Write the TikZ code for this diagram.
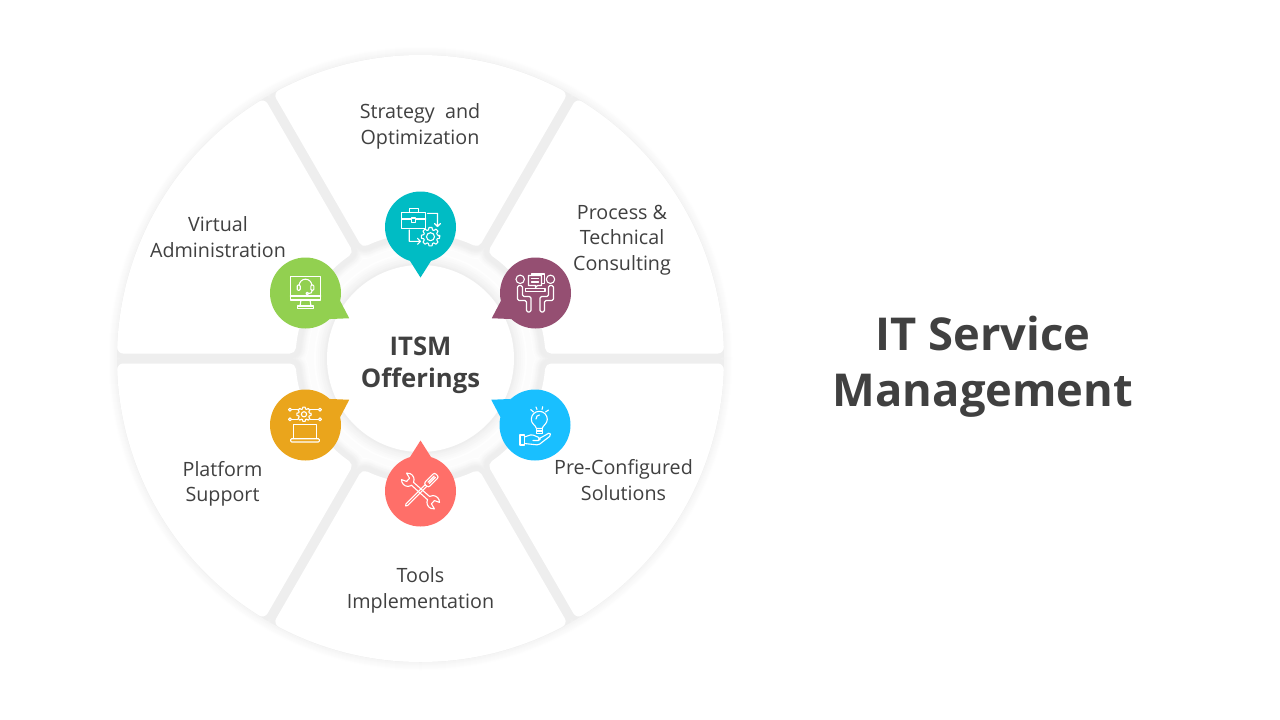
\documentclass[tikz,border=0pt]{standalone}
\usepackage{fontspec}
\setmainfont{Open Sans}
\definecolor{ink}{HTML}{404040}
\definecolor{cteal}{HTML}{00BCC4}
\definecolor{cplum}{HTML}{954F72}
\definecolor{cgreen}{HTML}{92D050}
\definecolor{corange}{HTML}{EAA51C}
\definecolor{cblue}{HTML}{19BFFF}
\definecolor{cred}{HTML}{FF6F69}
\tikzset{
  lab/.style={text=ink,align=center,inner sep=0pt,font=\fontsize{19.7}{25.3}\selectfont},
  hub/.style={text=ink,align=center,inner sep=0pt,font=\fontsize{25.7}{32}\selectfont\bfseries},
  ttl/.style={text=ink,align=center,inner sep=0pt,font=\fontsize{45.3}{56.5}\selectfont\bfseries},
  ico/.style={draw=white,line width=1.1pt,line join=round,line cap=round},
}
\newcommand\segpath[1]{(#1-27.88:297.5) arc[start angle=#1-27.88,end angle=#1+27.88,radius=297.5] -- (#1+25.18:131) arc[start angle=#1+25.18,end angle=#1-25.18,radius=131] -- cycle}
\newcommand\pin[4]{\fill[#4] (#1,#2) circle[radius=35.5];
  \fill[#4,shift={(#1,#2)}] (#3:50.5) -- (#3-17.2:35.5) -- (#3+17.2:35.5) -- cycle;}
\newcommand\gearshape[3]{% centre, outer radius, inner radius
  \draw[ico,shift={#1}] (0:#2)
  \foreach \g in {0,45,...,315}{ -- (\g-9:#2) -- (\g+9:#2) -- (\g+17:#2*0.76) -- (\g+28:#2*0.76)} -- cycle;
  \draw[ico,shift={#1}] (0,0) circle[radius=#3];}
\begin{document}
\begin{tikzpicture}[x=1pt,y=1pt,yscale=-1]
\useasboundingbox (0,0) rectangle (1280,720);
\fill[white] (0,0) rectangle (1280,720);
\begin{scope}[shift={(420.5,358.5)}]
  % faint shadow round the whole wheel
  \foreach \d/\c in {8/0.5,7/1,6/1.5,5/2,4/2.5,3/3,2/3.5,1/4}{
    \fill[black!\c!white] (0,0) circle[radius=303.5+\d];
  }
  % shadow of the six segments, in solid layers, inside the wheel only
  \begin{scope}
    \clip (0,0) circle[radius=303.5];
    \fill[black!1!white] (0,0) circle[radius=303.5];
    \foreach \d/\c in {13/0.5,12/1,11/1.5,10/2.5,9/3.5,8/4,7/5,6/6,5/6.5}{
      \foreach \a in {-90,-30,30,90,150,210}{
        \draw[black!\c!white,line width={12pt+2*\d pt},line join=round] \segpath{\a};
      }
    }
  \end{scope}
  \foreach \a in {-90,-30,30,90,150,210}{
    \filldraw[white,line width=12pt,line join=round] \segpath{\a};
  }
  % middle of the band is white, then shadow of the hub
  \foreach \d/\c in {13/0.5,11/1.5,9/2.5,7/3.5,5/4.5,3/5.5,1.5/6.5}{
    \fill[black!\c!white] (0,0) circle[radius=93.5+\d];
  }
  \fill[white] (0,0) circle[radius=93.5];
\end{scope}
% texts
\node[lab] (t1) at (420,126.5) {Strategy\ \ and\\Optimization};
\node[lab] (t2) at (622,240) {Process \&\\Technical\\Consulting};
\node[lab] (t3) at (623.5,480) {Pre-Configured\\Solutions};
\node[lab] (t4) at (420.5,590.5) {Tools\\Implementation};
\node[lab] (t5) at (222.5,483.5) {Platform\\Support};
\node[lab] (t6) at (218,237) {Virtual\\Administration};
\node[hub] (hub) at (420.5,365) {ITSM\\Offerings};
\node[ttl] (title) at (983,366.5) {IT Service\\Management};
% pins
\pin{420.5}{227}{90}{cteal}
\pin{535.5}{293}{150}{cplum}
\pin{535}{425}{210}{cblue}
\pin{420.5}{491}{270}{cred}
\pin{305.5}{425}{330}{corange}
\pin{305.5}{293}{30}{cgreen}
% teal icon
\begin{scope}[shift={(420.5,227)}]
  \draw[ico] (-18.7,-14.7) rectangle (5.3,1.7);
  \draw[ico] (-11.3,-14.7) -- (-11.3,-18.7) -- (-2,-18.7) -- (-2,-14.7);
  \draw[ico] (-18.7,-8) -- (-9,-8) (-5,-8) -- (5.3,-8);
  \draw[ico] (-9,-9) rectangle (-5,-4.5);
  \draw[ico] (7,-13.7) -- (17,-13.7) -- (17,-0.5) (14,-3.5) -- (17,-0.5) -- (20,-3.5);
  \draw[ico] (-11.3,3) -- (-11.3,14.3) -- (0,14.3) (-3,11.3) -- (0,14.3) -- (-3,17.3);
  \gearshape{(10,9.7)}{9.3}{4}
\end{scope}
% plum icon
\begin{scope}[shift={(535.5,293)}]
  \draw[ico] (-15.3,-13.7) circle[radius=4.2] (15,-13.7) circle[radius=4.2];
  \draw[ico,fill=cplum] (-4,-19) rectangle (9,-9.5);
  \draw[ico,fill=cplum] (-7,-17.5) -- (6,-17.5) -- (6,-7.5) -- (2,-7.5) -- (0,-5.5) -- (0,-7.5) -- (-7,-7.5) -- cycle;
  \draw[ico] (-4,-14.5) -- (3,-14.5) (-4,-11) -- (3,-11);
  \draw[ico] (-10,-4.5) rectangle (9.5,-1.3);
  \draw[ico,rounded corners=1.5pt] (-18,-7.5) -- (-18,7.5) -- (-9,7.5) -- (-9,19) -- (-4.5,19) -- (-4.5,3.5) -- (-13,3.5) -- (-13,-7.5) -- cycle;
  \draw[ico,rounded corners=1.5pt] (18,-7.5) -- (18,7.5) -- (9,7.5) -- (9,19) -- (4.5,19) -- (4.5,3.5) -- (13,3.5) -- (13,-7.5) -- cycle;
\end{scope}
% green icon
\begin{scope}[shift={(305.5,293)}]
  \draw[ico] (-15.2,-16.7) rectangle (15.2,7);
  \draw[ico] (-15.2,3) -- (15.2,3);
  \draw[ico] (-4.5,7) -- (-5.5,13) (4.5,7) -- (5.5,13);
  \draw[ico] (-7.8,13) rectangle (7.8,15.7);
  \draw[ico] (-6.3,-7.5) arc[start angle=180,end angle=360,radius=6.3];
  \draw[ico,rounded corners=1pt] (-8.3,-8) rectangle (-5.3,-2.7);
  \draw[ico,rounded corners=1pt] (5.3,-8) rectangle (8.3,-2.7);
  \draw[ico] (6.8,-2.7) .. controls (6.8,0) and (5,0.5) .. (3,0.5);
  \draw[ico] (1.7,0.5) circle[radius=1.3];
\end{scope}
% orange icon
\begin{scope}[shift={(305.5,425)}]
  \gearshape{(-1.5,-10.7)}{7.2}{2.6}
  \draw[ico] (-15.5,-15.3) circle[radius=1.5] (-15.5,-5.7) circle[radius=1.5] (14.5,-15.3) circle[radius=1.5] (14.5,-5.7) circle[radius=1.5];
  \draw[ico] (-14,-15.3) -- (-8,-15.3) (-14,-5.7) -- (-8,-5.7) (13,-15.3) -- (5,-15.3) (13,-5.7) -- (5,-5.7);
  \draw[ico] (-12.2,13.7) -- (-12.2,-0.7) -- (11.2,-0.7) -- (11.2,13.7);
  \draw[ico,rounded corners=1pt] (-14.8,13.7) rectangle (13.8,17);
\end{scope}
% blue icon
\begin{scope}[shift={(535,425)}]
  \draw[ico] (1.5,3.5) .. controls (0.5,0) and (-3.7,-1) .. (-3.7,-5.7) arc[start angle=180,end angle=360,radius=8] .. controls (12.3,-1) and (8,0) .. (7.2,3.5) -- cycle;
  \draw[ico] (1,-6) .. controls (1,-8.5) and (2.5,-10) .. (4.5,-10);
  \draw[ico] (1.5,3.5) -- (1.5,8.5) -- (7.2,8.5) -- (7.2,3.5) (1.5,6) -- (7.2,6);
  \draw[ico] (-4.3,-15.5) -- (-1.5,-13) (1,-18) -- (2,-15.5) (7.7,-18.3) -- (7,-15.5) (13.5,-15) -- (10.5,-13);
  \draw[ico] (-15,10) rectangle (-10.7,20);
  \draw[ico,rounded corners=1.5pt] (-10.7,12) -- (-3,9.5) -- (5,13) -- (5,15.5) -- (-2,15.5) (3.5,14) -- (15,7.5) -- (15.8,10.5) -- (3.5,20) -- (-10.7,18.5);
\end{scope}
% red icon
\begin{scope}[shift={(420.5,491)},scale=0.88]
  \begin{scope}[rotate=42]
    \draw[ico] (-12.5,2) -- (12.5,2)
      arc[start angle=162,end angle=40,radius=7.5] -- (19,2.5) -- (19,-2.5) -- (24.7,-4.8)
      arc[start angle=-40,end angle=-162,radius=7.5] -- (-12.5,-2)
      (-12.5,-2) arc[start angle=-18,end angle=-140,radius=7.5] -- (-19,-2.5) -- (-19,2.5) -- (-24.7,4.8)
      arc[start angle=140,end angle=18,radius=7.5];
  \end{scope}
  \begin{scope}[rotate=-45]
    \draw[ico] (-24,0) -- (-22,-1.3) -- (9,-1.3) -- (9,1.3) -- (-22,1.3) -- cycle;
    \draw[ico,fill=cred,rounded corners=2pt] (9,-3.5) rectangle (26,3.5);
    \draw[ico] (13,-1) -- (23,-1) (13,1) -- (23,1);
  \end{scope}
\end{scope}
\end{tikzpicture}
\end{document}
